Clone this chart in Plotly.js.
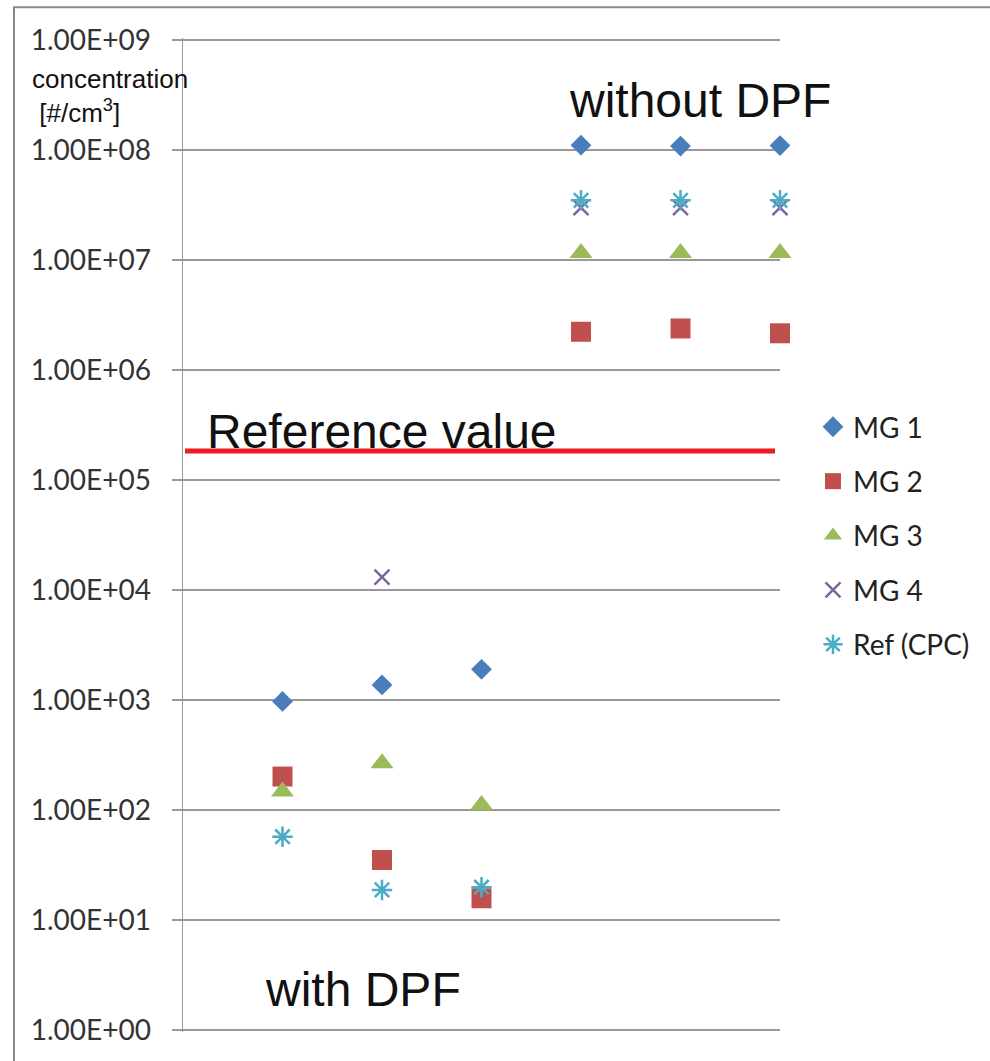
<!DOCTYPE html>
<html>
<head>
<meta charset="utf-8">
<script src="https://cdn.plot.ly/plotly-3.0.1.min.js"></script>
<style>html,body{margin:0;padding:0;background:#fff;}#chart{width:990px;height:1061px;}</style>
</head>
<body>
<div id="chart"></div>
<script>
// ---- data ----
const categories = [1, 2, 3, 4, 5, 6];
const seriesNames = ["MG 1", "MG 2", "MG 3", "MG 4", "Ref (CPC)"];
const mg1 = [970, 1370, 1900, 1.11e8, 1.09e8, 1.10e8];
const mg2 = [201, 35, 15.7, 2.23e6, 2.39e6, 2.16e6];
const mg3 = [147, 266, 111, 1.16e7, 1.16e7, 1.16e7];
const mg4 = [null, 13100, null, 3.0e7, 3.0e7, 3.0e7];
const refCpc = [57, 18.7, 19.8, 3.5e7, 3.5e7, 3.5e7];
const referenceValue = 1.84e5;
const referenceSpan = [0.02, 5.95];
const tickValues = [1, 10, 100, 1e3, 1e4, 1e5, 1e6, 1e7, 1e8, 1e9];
const tickLabels = ["1.00E+00","1.00E+01","1.00E+02","1.00E+03","1.00E+04","1.00E+05","1.00E+06","1.00E+07","1.00E+08","1.00E+09"];

// ---- layout geometry (pixels) ----
const W = 990, H = 1061;
const PAD = 0.02;             // small range padding (decades) so edge gridlines are drawn
const DEC = 110;              // pixels per decade
const L = 183, R = 780;
const T = 40 - PAD * DEC, B = 1030 + PAD * DEC;
const px = x => (x - L) / (R - L);
const py = y => (B - y) / (B - T);

const colors = ["#4A7EBB", "#C0504D", "#9BBB59", "#8064A2", "#4BACC6"];
const seriesData = [mg1, mg2, mg3, mg4, refCpc];
const symbols = ["diamond", "square", "triangle-up", "x-thin-open", "asterisk-open"];
const sizes = [16, 20, 20, 15, 17];

const traces = seriesData.map((d, i) => ({
  type: "scatter",
  mode: "markers",
  name: seriesNames[i],
  legendgroup: "g" + i,
  x: categories,
  y: d,
  cliponaxis: false,
  marker: {
    symbol: symbols[i],
    size: sizes[i],
    color: colors[i],
    line: {color: colors[i], width: (i >= 3 ? 2.5 : 0)}
  }
}));

traces.push({
  type: "scatter",
  mode: "lines",
  showlegend: false,
  hoverinfo: "skip",
  x: referenceSpan,
  y: [referenceValue, referenceValue],
  line: {color: "#ED1C24", width: 5}
});

const layout = {
  width: W, height: H,
  margin: {l: L, r: W - R, t: T, b: H - B, pad: 0},
  paper_bgcolor: "#ffffff",
  plot_bgcolor: "#ffffff",
  showlegend: true,
  font: {family: "Lato, 'Open Sans', sans-serif", color: "#333"},
  xaxis: {
    range: [0, 6],
    showgrid: false, zeroline: false, showticklabels: false, showline: false,
    fixedrange: true
  },
  yaxis: {
    type: "log",
    range: [-PAD, 9 + PAD],
    tickmode: "array",
    tickvals: tickValues,
    ticktext: tickLabels,
    tickfont: {family: "Lato, sans-serif", size: 28, color: "#333"},
    ticks: "outside", ticklen: 10, tickcolor: "#999", tickwidth: 1.5,
    ticklabelstandoff: 15,
    showgrid: true, gridcolor: "#999", gridwidth: 1.5,
    showline: true, linecolor: "#999", linewidth: 1.5,
    zeroline: false
  },
  legend: {
    x: px(813), xanchor: "left",
    y: py(402), yanchor: "top",
    font: {family: "Lato, sans-serif", size: 28, color: "#222"},
    traceorder: "grouped",
    tracegroupgap: 15,
    bgcolor: "rgba(0,0,0,0)",
    itemwidth: 30
  },
  annotations: [
    {text: "concentration<br> [#/cm<sup>3</sup>]", xref: "paper", yref: "paper",
     x: px(30), y: py(62), xanchor: "left", yanchor: "top", align: "left", showarrow: false,
     font: {family: "Liberation Sans, Arial, sans-serif", size: 26, color: "#111"}},
    {text: "without DPF", xref: "paper", yref: "paper",
     x: px(700), y: py(100), xanchor: "center", yanchor: "middle", showarrow: false,
     font: {family: "Liberation Sans, Arial, sans-serif", size: 48, color: "#111"}},
    {text: "Reference value", xref: "paper", yref: "paper",
     x: px(205), y: py(431), xanchor: "left", yanchor: "middle", showarrow: false,
     font: {family: "Liberation Sans, Arial, sans-serif", size: 48, color: "#111"}},
    {text: "with DPF", xref: "paper", yref: "paper",
     x: px(363), y: py(990), xanchor: "center", yanchor: "middle", showarrow: false,
     font: {family: "Liberation Sans, Arial, sans-serif", size: 48, color: "#111"}}
  ],
  shapes: [
    {type: "rect", xref: "paper", yref: "paper",
     x0: px(14), x1: px(1010), y0: py(1080), y1: py(7),
     line: {color: "#8a8a8a", width: 2}, fillcolor: "rgba(0,0,0,0)", layer: "below"}
  ]
};

Plotly.newPlot("chart", traces, layout, {displayModeBar: false, staticPlot: true});
</script>
</body>
</html>
